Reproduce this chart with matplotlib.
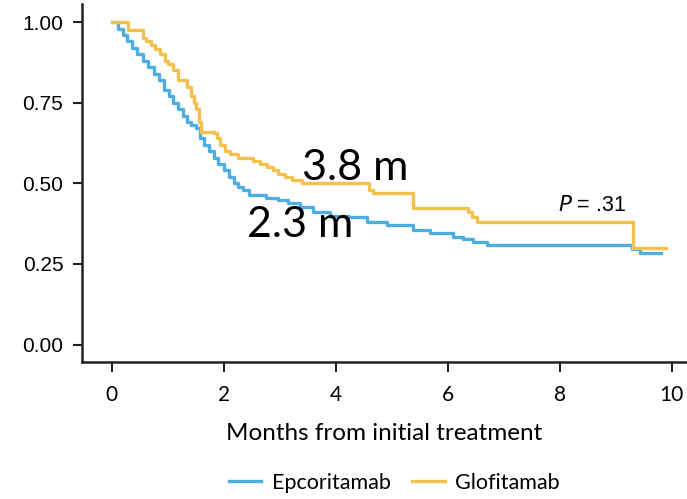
import matplotlib.pyplot as plt
from matplotlib import font_manager

# Curvas de Kaplan-Meier (tempo em meses, sobrevida)
tempo_epco = [0, 0.12, 0.20, 0.28, 0.36, 0.45, 0.55, 0.65, 0.75, 0.85, 0.93,
              1.02, 1.10, 1.18, 1.27, 1.35, 1.42, 1.50, 1.57, 1.65, 1.73,
              1.82, 1.90, 2.00, 2.10, 2.18, 2.25, 2.35, 2.45, 2.75, 2.96,
              3.15, 3.37, 3.60, 3.90, 4.21, 4.56, 4.92, 5.38, 5.69, 6.10,
              6.27, 6.45, 6.70, 9.29, 9.43, 9.80]
surv_epco = [1.0, 0.98, 0.96, 0.94, 0.92, 0.90, 0.88, 0.86, 0.84, 0.82, 0.79,
             0.77, 0.75, 0.73, 0.71, 0.69, 0.68, 0.67, 0.64, 0.62, 0.60,
             0.58, 0.56, 0.54, 0.52, 0.50, 0.49, 0.478, 0.465, 0.455, 0.448,
             0.44, 0.426, 0.41, 0.40, 0.395, 0.38, 0.37, 0.355, 0.345, 0.333,
             0.326, 0.318, 0.309, 0.296, 0.285, 0.285]

tempo_glofi = [0, 0.29, 0.55, 0.62, 0.70, 0.78, 0.87, 0.95, 1.0, 1.10, 1.18,
               1.35, 1.41, 1.47, 1.50, 1.55, 1.59, 1.82, 1.88, 1.94, 2.03,
               2.12, 2.25, 2.53, 2.65, 2.78, 2.88, 2.96, 3.10, 3.22, 3.40,
               4.60, 4.67, 5.38, 6.36, 6.44, 6.52, 9.31, 9.89]
surv_glofi = [1.0, 0.975, 0.95, 0.94, 0.93, 0.915, 0.90, 0.88, 0.87, 0.85, 0.82,
              0.80, 0.77, 0.75, 0.73, 0.69, 0.66, 0.655, 0.64, 0.62, 0.60,
              0.59, 0.58, 0.57, 0.56, 0.55, 0.54, 0.53, 0.52, 0.51, 0.50,
              0.478, 0.469, 0.425, 0.41, 0.395, 0.38, 0.30, 0.30]

xticks = [0, 2, 4, 6, 8, 10]
yticks = [0.0, 0.25, 0.50, 0.75, 1.00]

azul = '#4FAEE0'
laranja = '#F4C04E'
preto = '#222222'

# fonte estreita para o eixo x (se existir)
nomes = {f.name for f in font_manager.fontManager.ttflist}
estreita = 'Liberation Sans Narrow' if 'Liberation Sans Narrow' in nomes else 'Lato'

fig = plt.figure(figsize=(6.87, 4.99), dpi=100)
ax = fig.add_axes([0.1194, 0.2745, 0.8806, 0.7175])

ax.step(tempo_epco, surv_epco, where='post', color=azul, lw=2.4, label='Epcoritamab')
ax.step(tempo_glofi, surv_glofi, where='post', color=laranja, lw=2.4, label='Glofitamab')

ax.set_xlim(-0.53, 10.27)
ax.set_ylim(-0.054, 1.056)

ax.spines['top'].set_visible(False)
ax.spines['right'].set_visible(False)
for s in ['left', 'bottom']:
    ax.spines[s].set_linewidth(1.8)
    ax.spines[s].set_color(preto)

ax.set_yticks(yticks)
ax.set_yticklabels(['%.2f' % v for v in yticks], family='Liberation Sans', fontsize=15)
ax.set_xticks(xticks)
ax.set_xticklabels([str(v) for v in xticks], family=estreita, fontsize=15)
ax.tick_params(axis='y', length=6.5, width=1.5, color=preto, pad=7)
ax.tick_params(axis='x', length=7.5, width=1.5, color=preto, pad=9)

ax.set_xlabel('Months from initial treatment', family=estreita,
              fontsize=17.5, labelpad=13)

# Anotações
ax.text(3.40, 0.548, '3.8 m', family='Lato', fontsize=31, va='center', ha='left')
ax.text(2.42, 0.371, '2.3 m', family='Lato', fontsize=31, va='center', ha='left')
ax.text(7.97, 0.414, r'$P$ = .31', family='Liberation Sans', fontsize=15.5,
        va='baseline', ha='left')

fig.legend(loc='center', bbox_to_anchor=(0.574, 0.032), ncol=2, frameon=False,
           handlelength=1.5, handletextpad=0.5, columnspacing=1.0,
           prop={'family': 'Lato', 'size': 15.5})

fig.savefig('out.png', dpi=100)
